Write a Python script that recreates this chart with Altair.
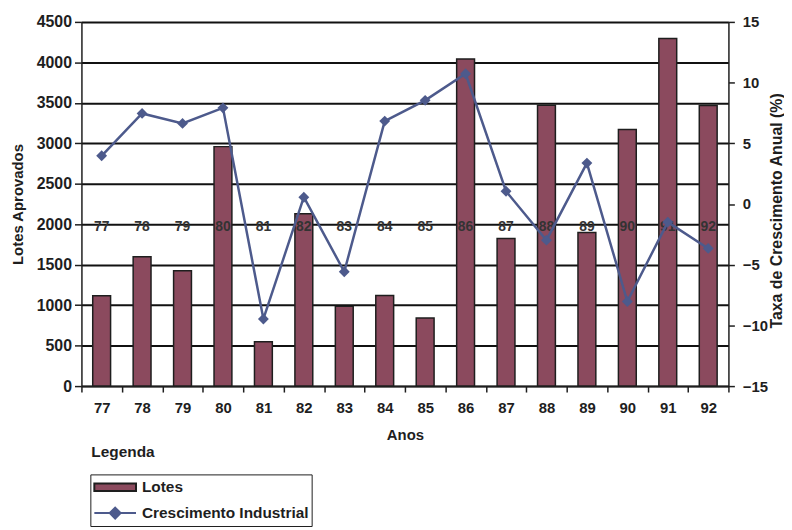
import altair as alt
import pandas as pd

anos = ["77", "78", "79", "80", "81", "82", "83", "84", "85", "86", "87", "88", "89", "90", "91", "92"]
lotes = [1116, 1598, 1426, 2959, 548, 2130, 985, 1120, 842, 4043, 1823, 3470, 1897, 3172, 4296, 3466]
crescimento = [3.97, 7.46, 6.64, 7.92, -9.47, 0.56, -5.58, 6.83, 8.54, 10.73, 1.05, -2.98, 3.37, -8.03, -1.49, -3.66]
series = ["Lotes", "Crescimento Industrial"]
legend_heading = ["Legenda"]

left_ticks = [0, 500, 1000, 1500, 2000, 2500, 3000, 3500, 4000, 4500]
right_ticks = [-15, -10, -5, 0, 5, 10, 15]

MAROON = "#8b4a5e"
BLUE = "#4d5a8c"
INK = "#1e1e1e"
FONT = "Liberation Sans"

df = pd.DataFrame({"Ano": anos, "Lotes": lotes, "Crescimento": crescimento})
df_leg = pd.DataFrame({"Serie": series})
df_head = pd.DataFrame({"t": legend_heading})

x_enc = alt.X(
    "Ano:N", sort=anos,
    scale=alt.Scale(paddingInner=0, paddingOuter=0),
    axis=alt.Axis(title="Anos", labelAngle=0, tickBand="extent", tickSize=6,
                  tickColor=INK, tickWidth=1.5, domainColor=INK, domainWidth=1.5,
                  labelFont=FONT, labelFontSize=15, labelFontWeight="bold", labelColor=INK,
                  labelPadding=9, titleFont=FONT, titleFontSize=15, titleFontWeight="bold",
                  titleColor=INK, titlePadding=12),
)

y_left = alt.Y(
    "Lotes:Q",
    scale=alt.Scale(domain=[0, 4500], nice=False, zero=True),
    axis=alt.Axis(values=left_ticks, format="d", grid=True, gridColor="#111111", gridWidth=2,
                  gridOpacity=1,
                  tickSize=7, tickColor=INK, tickWidth=1.5, domainColor=INK, domainWidth=1.5,
                  labelFont=FONT, labelFontSize=16, labelFontWeight="bold", labelColor=INK,
                  labelPadding=3, title="Lotes Aprovados", titleFont=FONT, titleFontSize=15,
                  titleFontWeight="bold", titleColor=INK, titleX=-56, titleBaseline="bottom"),
)

bars = alt.Chart(df).mark_bar(size=18, fill=MAROON, stroke=INK, strokeWidth=1.5).encode(
    x=x_enc, y=y_left
)

year_labels = alt.Chart(df).mark_text(
    font=FONT, fontSize=14, fontWeight="bold", color="#333333", baseline="middle", dy=3
).encode(x=x_enc, y=alt.datum(2000), text="Ano:N")

left = alt.layer(bars, year_labels)

y_right = alt.Y(
    "Crescimento:Q",
    scale=alt.Scale(domain=[-15, 15], nice=False, zero=False),
    axis=alt.Axis(values=right_ticks, grid=False, orient="right",
                  tickSize=6, tickColor=INK, tickWidth=1.5, domainColor=INK, domainWidth=1.5,
                  labelFont=FONT, labelFontSize=15, labelFontWeight="bold", labelColor=INK,
                  labelPadding=8, title="Taxa de Crescimento Anual (%)", titleFont=FONT,
                  titleFontSize=16, titleFontWeight="bold", titleColor=INK,
                  titleAngle=270, titleBaseline="top", titleX=40, titleY=190),
)

line = alt.Chart(df).mark_line(color=BLUE, strokeWidth=2.5).encode(x=x_enc, y=y_right)
points = alt.Chart(df).mark_point(shape="diamond", filled=True, size=120, color=BLUE, opacity=1).encode(
    x=x_enc, y=y_right
)
right = alt.layer(line, points)

rect_path = "M-1,-0.42H3.667V0.42H-1Z"
line_path = "M-1,0H3.667M1.333,-0.61L1.943,0L1.333,0.61L0.723,0Z"

leg = alt.Legend(title=None, orient="none", legendX=9, legendY=456, strokeColor=INK,
                 padding=3, symbolSize=324, symbolStrokeWidth=2, labelOffset=29,
                 rowPadding=7, labelFont=FONT, labelFontSize=15.5, labelFontWeight="bold",
                 labelColor=INK, labelLimit=400, fillColor="white")

legend_layer = alt.Chart(df_leg).mark_point(filled=True, opacity=1, size=0).encode(
    fill=alt.Fill("Serie:N", scale=alt.Scale(domain=series, range=[MAROON, BLUE]), legend=leg),
    stroke=alt.Stroke("Serie:N", scale=alt.Scale(domain=series, range=[INK, BLUE]), legend=leg),
    shape=alt.Shape("Serie:N", scale=alt.Scale(domain=series, range=[rect_path, line_path]), legend=leg),
)

heading = alt.Chart(df_head).mark_text(
    font=FONT, fontSize=15.5, fontWeight="bold", color=INK, align="left", baseline="alphabetic"
).encode(x=alt.value(10), y=alt.value(438), text="t:N")

chart = alt.layer(left, right, legend_layer, heading).resolve_scale(
    y="independent"
).properties(
    width=652, height=367,
    padding={"left": 74, "top": 12, "right": 56, "bottom": 142},
    autosize=alt.AutoSizeParams(type="none"),
    background="white",
).configure_view(stroke=None, fill="#dce0d2")

chart.save("out.html", embed_options={"renderer": "svg", "actions": False})
